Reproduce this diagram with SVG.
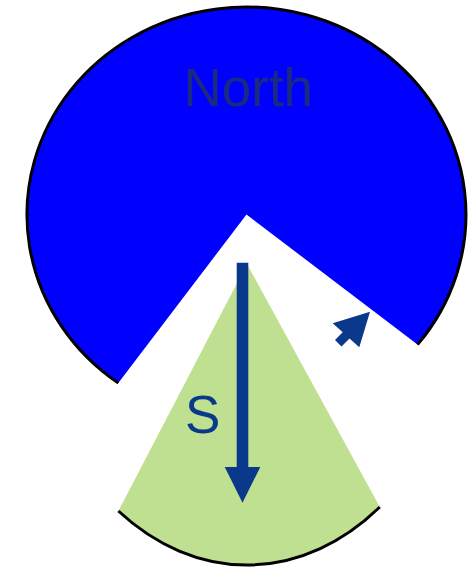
<svg xmlns="http://www.w3.org/2000/svg" width="476" height="568" viewBox="0 0 476 568">
  <style>
    .rim { fill: none; stroke: #000000; stroke-width: 3; }
    .lbl { font-family: "Liberation Sans", Arial, sans-serif; font-size: 53px; }
    .arr { fill: #0a388a; stroke: none; }
  </style>
  <rect width="476" height="568" fill="#ffffff"/>
  <g id="north">
    <path d="M 246.5 214.5 L 118.3 383 A 219.5 207.5 0 1 1 417.5 344.6 Z" fill="#0000ff"/>
    <path class="rim" d="M 118.3 383 A 219.5 207.5 0 1 1 417.5 344.6"/>
    <text class="lbl" x="248.3" y="105.5" text-anchor="middle" fill="#1a2a82">North</text>
  </g>
  <g id="south">
    <path d="M 247 264 L 118.4 511 A 225 301 0 0 0 379.8 507 Z" fill="#c0e091"/>
    <path class="rim" d="M 118.4 511 A 225 301 0 0 0 379.8 507"/>
    <text class="lbl" x="202.7" y="432.5" text-anchor="middle" fill="#0a388a" font-size="52">S</text>
  </g>
  <g id="connectors">
    <path class="arr" d="M 236.7 262.7 L 248.3 262.7 L 248.3 467 L 260.3 467 L 242.5 502.7 L 224.7 467 L 236.7 467 Z"/>
    <path class="arr" d="M 370 311.7 L 359.3 347.3 L 349.5 338.5 L 341.5 346.5 L 335 340 L 342.7 332.3 L 332.7 323.3 Z"/>
  </g>
</svg>
